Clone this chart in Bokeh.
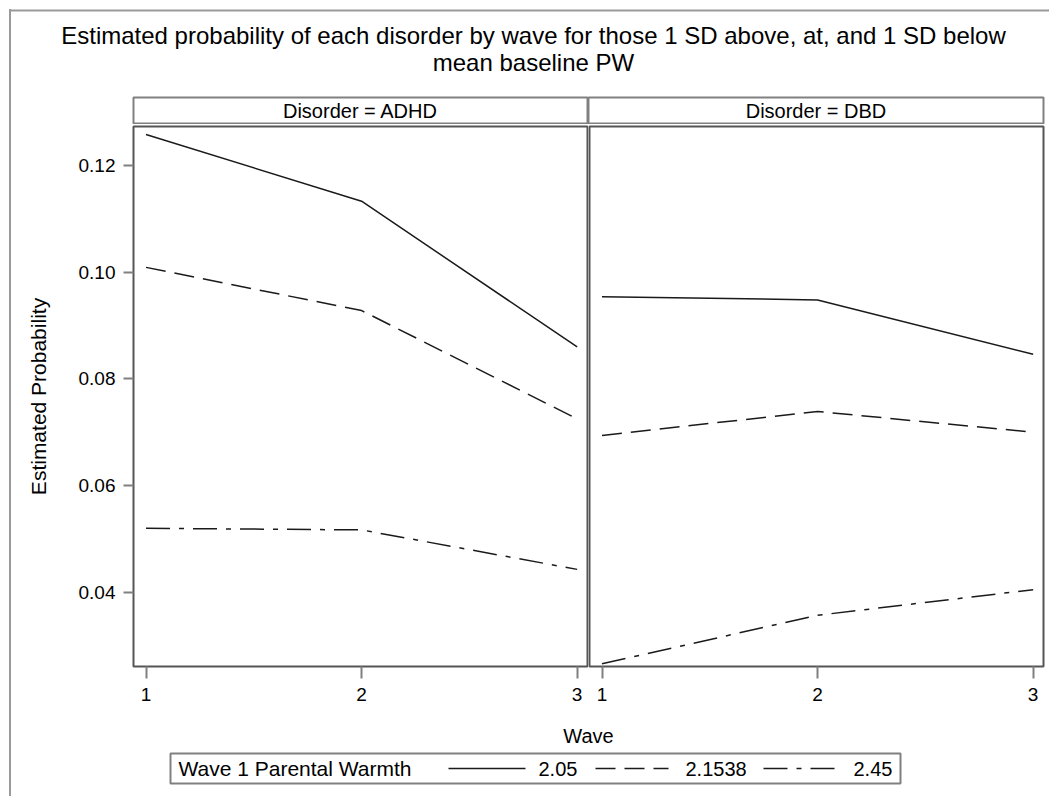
import math
from bokeh.plotting import figure
from bokeh.layouts import column, row
from bokeh.models import Range1d, FixedTicker
from bokeh.core.properties import value
from bokeh.embed import file_html
from bokeh.resources import INLINE

# ---------------- data ----------------
waves = [1, 2, 3]
wave_tick_labels = ["1", "2", "3"]
disorders = ["ADHD", "DBD"]
pw_levels = ["2.05", "2.1538", "2.45"]

adhd_205 = [0.1258, 0.1133, 0.0860]
adhd_21538 = [0.1009, 0.0928, 0.0725]
adhd_245 = [0.0520, 0.0517, 0.0443]

dbd_205 = [0.0954, 0.0948, 0.0846]
dbd_21538 = [0.0694, 0.0739, 0.0700]
dbd_245 = [0.0266, 0.0357, 0.0405]

y_ticks = [0.04, 0.06, 0.08, 0.10, 0.12]
y_tick_labels = ["0.04", "0.06", "0.08", "0.10", "0.12"]

title_lines = [
    "Estimated probability of each disorder by wave for those 1 SD above, at, and 1 SD below",
    "mean baseline PW",
]
x_label = "Wave"
y_label = "Estimated Probability"
legend_title = "Wave 1 Parental Warmth"

# ---------------- styles ----------------
FONT = value("Liberation Sans")
dashes = ["solid", "20 9", "24 9 5 9"]
LINE_COLOR = "#1a1a1a"
FRAME_COLOR = "#555555"
BORDER_COLOR = "#9a9a9a"
TICK_COLOR = "#808080"
W, H = 1049, 796
TOP_H = 124
MID_H = 588
BOT_H = H - TOP_H - MID_H
STRIP_W = 60
MB_TOP, MB_BOT = 2, 46
FRAME_TOP = TOP_H + MB_TOP
FRAME_BOT = TOP_H + MID_H - MB_BOT

panel_series = {
    "ADHD": [adhd_205, adhd_21538, adhd_245],
    "DBD": [dbd_205, dbd_21538, dbd_245],
}

y_range = Range1d(0.0261, 0.1273)


def blank(width, height, x0, x1, y0, y1, mbt=0, mbb=0):
    p = figure(width=width, height=height, x_range=Range1d(x0, x1), y_range=Range1d(y0, y1),
               toolbar_location=None, output_backend="svg",
               x_axis_location=None, y_axis_location=None,
               min_border=0, min_border_left=0, min_border_right=0,
               min_border_top=mbt, min_border_bottom=mbb)
    p.grid.visible = False
    p.outline_line_color = None
    p.background_fill_color = None
    p.border_fill_color = None
    return p


# ---------------- top: title + panel headers ----------------
top = blank(W, TOP_H, 0, W, TOP_H, 0)
top.line(x=[10, W], y=[10, 10], line_color=BORDER_COLOR, line_width=2)
top.text(x=[533, 533], y=[35, 62], text=title_lines, text_font=FONT, text_font_size="24px",
         text_align="center", text_baseline="middle", text_color="black")
hdr_left = [133, 588]
hdr_right = [587, 1043]
top.quad(left=hdr_left, right=hdr_right, top=[97, 97], bottom=[123, 123],
         fill_color="white", line_color="#808080", line_width=2)
top.text(x=[(a + b) / 2 for a, b in zip(hdr_left, hdr_right)], y=[110, 110],
         text=["Disorder = " + d for d in disorders], text_font=FONT, text_font_size="20px",
         text_align="center", text_baseline="middle", text_color="black")

# ---------------- left strip: y label (frame aligned with the panels) ----------------
strip = blank(STRIP_W, MID_H, 0, STRIP_W, FRAME_BOT, FRAME_TOP, mbt=MB_TOP, mbb=MB_BOT)
strip.text(x=[38], y=[(FRAME_TOP + FRAME_BOT) / 2], text=[y_label], angle=math.pi / 2,
           text_font=FONT, text_font_size="21px", text_align="center",
           text_baseline="middle", text_color="black")


# ---------------- panels ----------------
def make_panel(dis, width, mbl, mbr, show_y):
    p = figure(width=width, height=MID_H, x_range=Range1d(0.942, 3.048), y_range=y_range,
               toolbar_location=None, output_backend="svg",
               y_axis_location="left" if show_y else None,
               min_border_left=mbl, min_border_right=mbr,
               min_border_top=MB_TOP, min_border_bottom=MB_BOT)
    p.grid.visible = False
    p.outline_line_color = FRAME_COLOR
    p.outline_line_width = 2
    p.background_fill_color = None
    p.border_fill_color = None
    for vals, dash in zip(panel_series[dis], dashes):
        p.line(waves, vals, line_color=LINE_COLOR, line_width=1.5, line_dash=dash)
    xa = p.xaxis[0]
    xa.ticker = FixedTicker(ticks=waves)
    xa.major_label_overrides = dict(zip(waves, wave_tick_labels))
    axes = [xa]
    if show_y:
        ya = p.yaxis[0]
        ya.ticker = FixedTicker(ticks=y_ticks)
        ya.major_label_overrides = dict(zip(y_ticks, y_tick_labels))
        ya.major_tick_out = 10
        ya.major_label_standoff = 8
        axes.append(ya)
    xa.major_tick_out = 12
    xa.major_label_standoff = 9
    for a in axes:
        a.axis_line_color = None
        a.major_tick_in = 0
        a.major_tick_line_color = TICK_COLOR
        a.major_tick_line_width = 2
        a.minor_tick_line_color = None
        a.major_label_text_font = "Liberation Sans"
        a.major_label_text_font_size = "19px"
        a.major_label_text_color = "black"
    return p


left = make_panel("ADHD", 588 - STRIP_W, 133 - STRIP_W, 1, True)
right = make_panel("DBD", W - 588, 1, 6, False)

# ---------------- bottom: x label + legend ----------------
bottom = blank(W, BOT_H, 0, W, H, TOP_H + MID_H)
bottom.text(x=[588], y=[735], text=[x_label], text_font=FONT, text_font_size="20px",
            text_align="center", text_baseline="middle", text_color="black")
bottom.quad(left=[170], right=[900], top=[753], bottom=[783], fill_color="white",
            line_color="#808080", line_width=2)
bottom.text(x=[178], y=[768], text=[legend_title], text_font=FONT, text_font_size="21px",
            text_align="left", text_baseline="middle", text_color="black")
sample_x0 = [448, 595, 763]
sample_x1 = [525, 668, 838]
label_x = [538, 685, 853]
for x0, x1, lx, lab, dash in zip(sample_x0, sample_x1, label_x, pw_levels, dashes):
    bottom.line(x=[x0, x1], y=[768, 768], line_color=LINE_COLOR, line_width=1.5, line_dash=dash)
    bottom.text(x=[lx], y=[768], text=[lab], text_font=FONT, text_font_size="20px",
                text_align="left", text_baseline="middle", text_color="black")

# outer graph border, left edge drawn as the page background behind the transparent figures
border_css = {
    "background-image": f"linear-gradient({BORDER_COLOR}, {BORDER_COLOR})",
    "background-position": "9px 9px",
    "background-size": "2px 100%",
    "background-repeat": "no-repeat",
    "background-color": "white",
}

layout = column(top, row(strip, left, right), bottom, styles=border_css)

with open("out.html", "w") as f:
    f.write(file_html(layout, INLINE))
